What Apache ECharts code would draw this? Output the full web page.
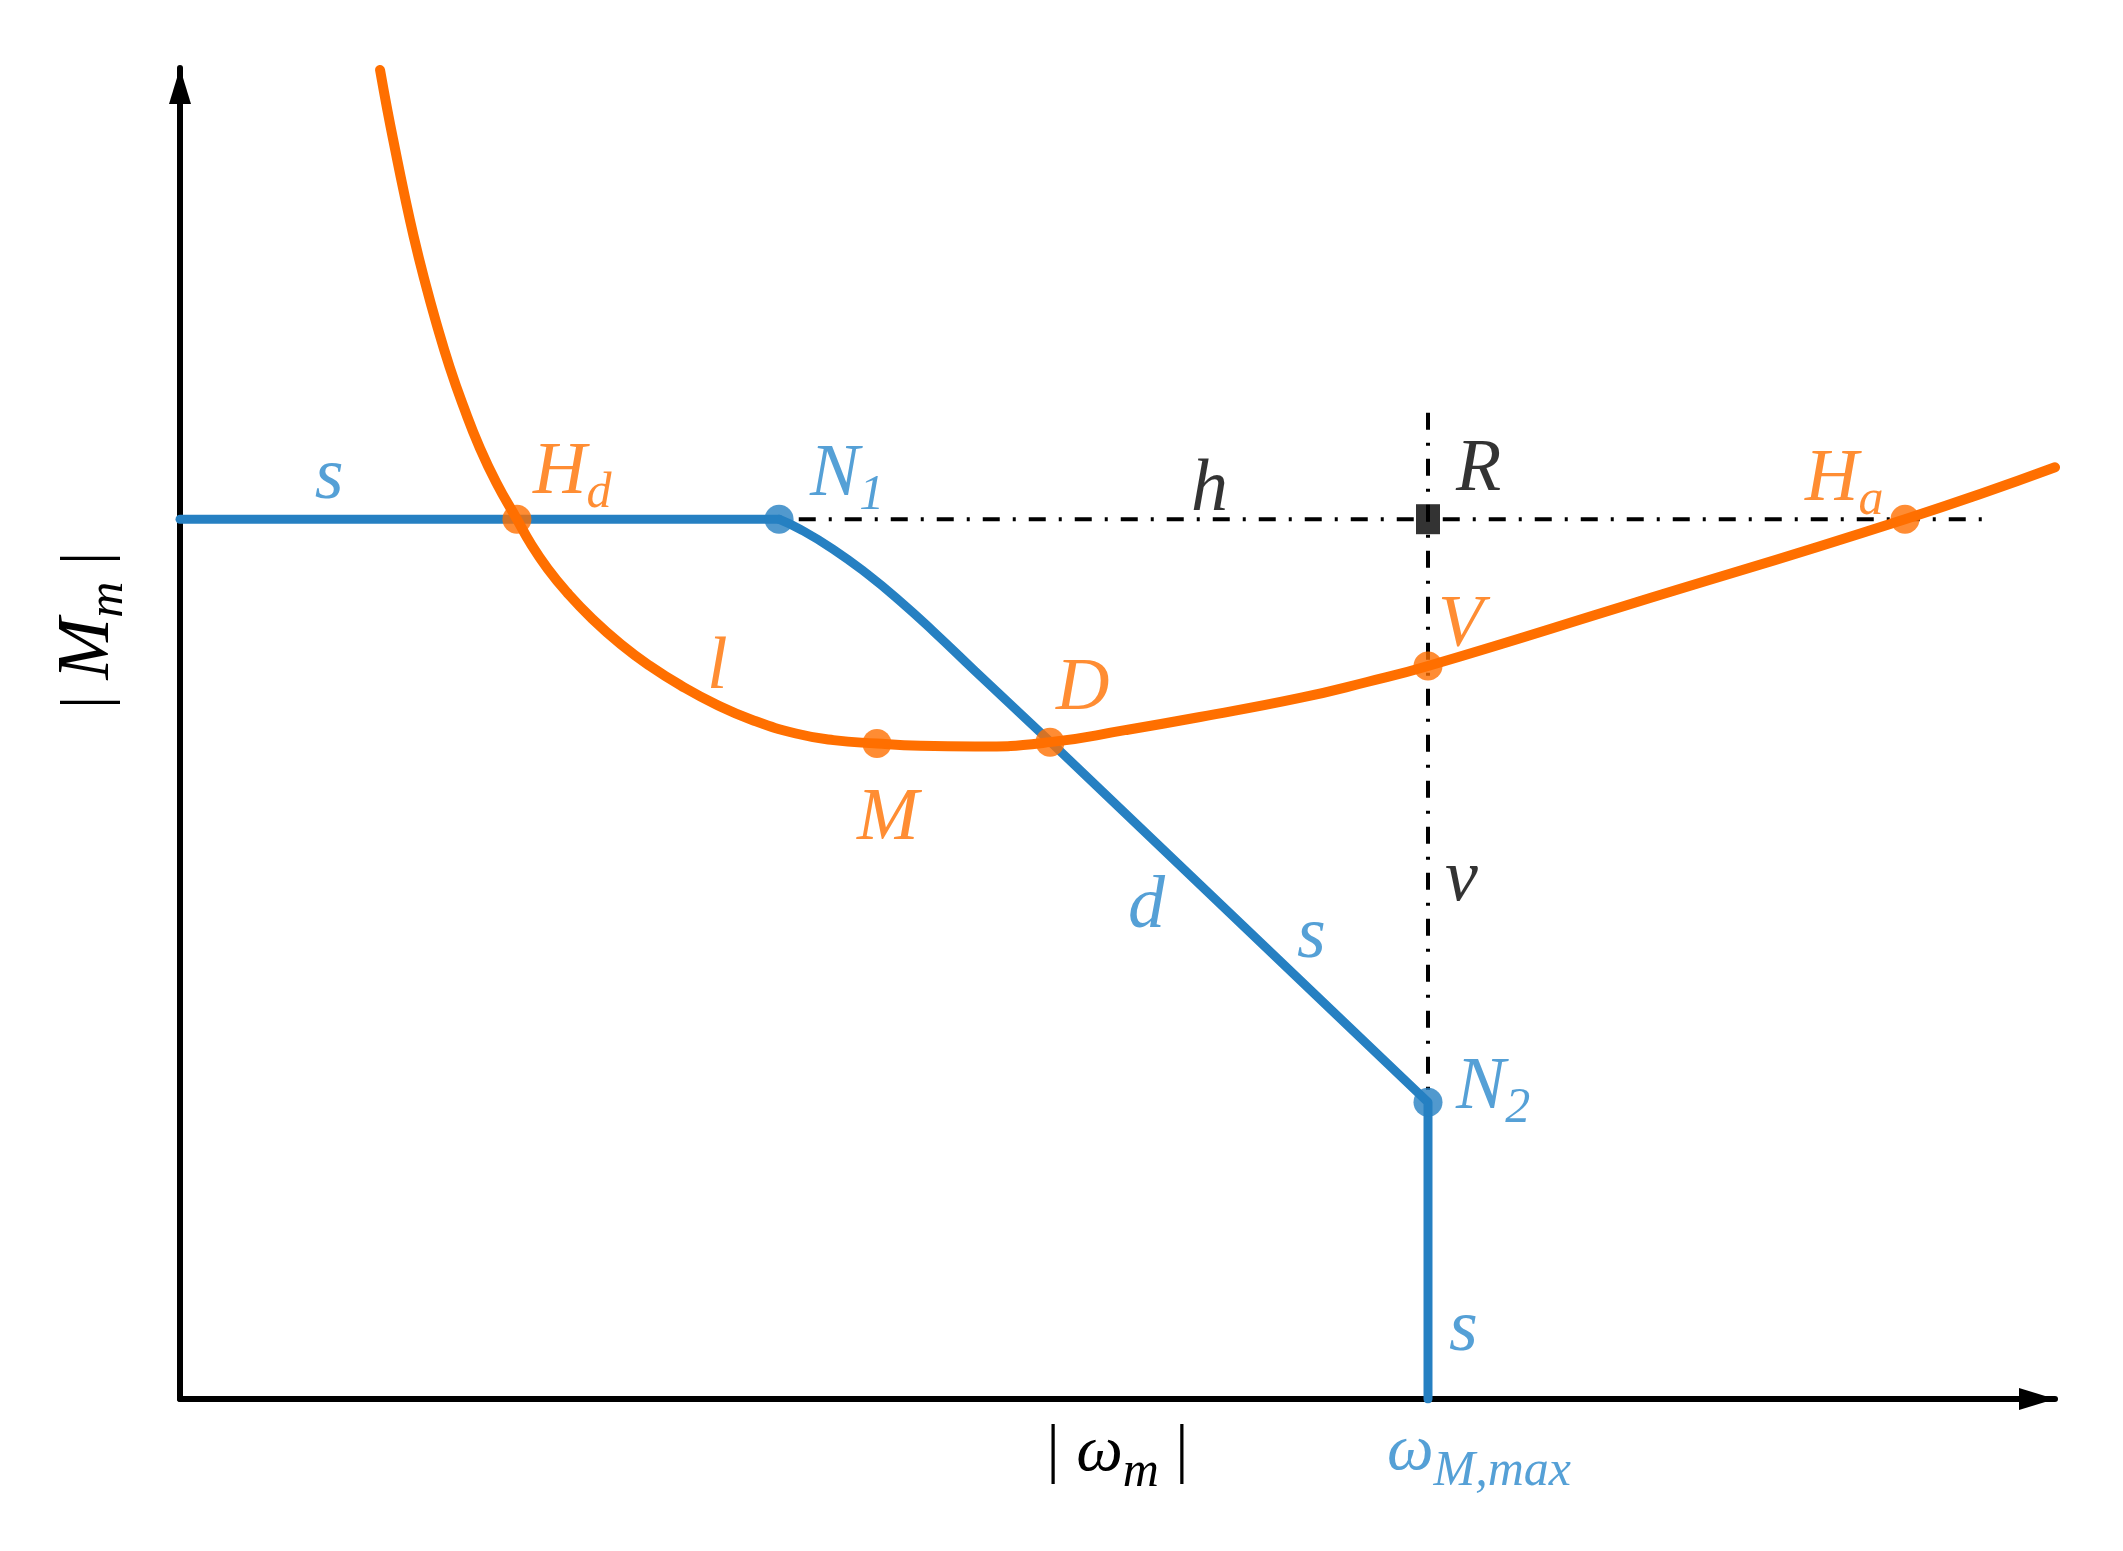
<!DOCTYPE html>
<html><head><meta charset="utf-8">
<script src="https://cdn.jsdelivr.net/npm/echarts@6/dist/echarts.min.js"></script>
<style>html,body{margin:0;padding:0;background:#fff}#c{width:2123px;height:1551px}</style>
</head><body><div id="c"></div>
<script>
// ---- data (arbitrary units: x 0..100, y 0..100) ----
const orangeCurve = [[10.67,99.85],[11.06,96.84],[11.48,93.84],[11.95,90.61],[12.47,87.3],[13.04,84.07],[13.67,80.84],[14.38,77.54],[15.13,74.53],[15.97,71.53],[16.88,68.82],[17.97,66.1],[18.69,64.3],[19.6,62.4],[20.64,60.6],[22.0,58.6],[23.52,56.7],[25.04,55.1],[26.72,53.6],[28.57,52.2],[30.55,51.0],[32.85,50.0],[34.85,49.5],[37.17,49.25],[39.5,49.08],[42.4,49.02],[46.4,49.35],[50.4,50.25],[54.4,51.24],[59.73,52.67],[63.31,53.87],[66.56,55.07],[77.07,59.6],[92.0,66.1],[100,70]];
const blueFlat = [[0,66.1],[31.95,66.1]];
const blueBend = [[31.95,66.1],[33.07,65.35],[34.83,63.85],[36.64,62.0],[38.4,59.95],[40.2,57.65],[42.4,54.7],[46.4,49.4]];
const blueDrop = [[46.4,49.4],[66.56,22.3],[66.56,0]];
const orangeDots = [[17.97,66.1],[37.17,49.25],[46.4,49.35],[66.56,55.07],[92.0,66.1]];
const blueDots = [[31.95,66.1],[66.56,22.3]];
const rPoint = [[66.56,66.1]];
const hLine = [[33.0,66.1],[96.2,66.1]];
const vLine = [[66.56,74.1],[66.56,22.3]];

const labelText  = ['s','H','N','h','R','H','V','l','D','M','d','s','v','N','s','ω'];
const labelSub   = ['','d','1','','','a','','','','','','','','2','','M,max'];
const labelGroup = ['blue','orange','blue','black','black','orange','orange','orange','orange','orange','blue','blue','black','blue','blue','blue'];
const labelAnchor = [[7.19,69.12],[18.83,69.5],[33.6,69.35],[53.92,68.22],[68.05,69.72],[86.67,68.97],[67.09,58.0],[28.1,54.85],[46.72,53.27],[36.11,43.5],[50.56,36.89],[59.57,34.64],[67.47,38.92],[68.05,23.29],[67.68,5.18],[64.37,-3.98]];
const xName = 'ω', xSub = 'm', yName = 'M', ySub = 'm';

// ---- styling ----
const FONT = '"Liberation Serif", "DejaVu Serif", serif';
const LINE = {blue:'#2680C2', orange:'#FF6F00', black:'#000000'};
const TEXT = {blue:'#2A88CC', orange:'#FF7000', black:'#000000'};
function rich(col){
  return {
    m:{fontFamily:FONT,fontStyle:'italic',fontSize:74,lineHeight:90,color:col,verticalAlign:'middle'},
    w:{fontFamily:FONT,fontStyle:'italic',fontSize:66,lineHeight:90,color:col,verticalAlign:'middle'},
    s:{fontFamily:FONT,fontStyle:'italic',fontSize:50,lineHeight:27,color:col,verticalAlign:'bottom'},
    t:{fontFamily:FONT,fontSize:66,lineHeight:90,color:col,verticalAlign:'middle'}
  };
}
function labelSeries(group){
  const data = [];
  labelText.forEach((t,i)=>{ if(labelGroup[i]===group) data.push({value:labelAnchor[i], name:t, sub:labelSub[i]}); });
  return {
    type:'scatter', symbolSize:0, clip:false, silent:true, z:20, data,
    label:{show:true, position:[0,0], align:'left', verticalAlign:'middle', rich:rich(TEXT[group]),
      formatter:p=>{ const d=p.data; const k = d.name==='ω' ? 'w' : 'm'; return '{'+k+'|'+d.name+'}' + (d.sub ? '{s|'+d.sub+'}' : ''); }}
  };
}
const dashDot = [17,13,3,13];
const arrowLine = {show:true, symbol:['none','triangle'], symbolSize:[22,36], symbolOffset:[0,-18], lineStyle:{color:'#000', width:6}};
function seg(data, color, width, z, smooth){
  return {type:'line', data, symbol:'none', silent:true, z, smooth:smooth||false,
    lineStyle:{color, width, cap:'round', join:'round'}};
}

const option = {
  animation:false,
  backgroundColor:'#ffffff',
  grid:{left:180, right:68, top:68, bottom:152, containLabel:false},
  xAxis:{type:'value', min:0, max:100, axisLine:arrowLine, axisTick:{show:false}, axisLabel:{show:false}, splitLine:{show:false},
    name:'{t|| }{w|'+xName+'}{s|'+xSub+'}{t| |}', nameLocation:'middle', nameGap:9,
    nameTextStyle:{rich:rich('#000')}},
  yAxis:{type:'value', min:0, max:100, axisLine:arrowLine, axisTick:{show:false}, axisLabel:{show:false}, splitLine:{show:false},
    name:'{t|| }{m|'+yName+'}{s|'+ySub+'}{t| |}', nameLocation:'middle', nameGap:46,
    nameTextStyle:{rich:rich('#000'), padding:[0,0,0,206]}},
  series:[
    {type:'line', data:hLine, symbol:'none', silent:true, z:2, lineStyle:{color:'#000', width:4, type:dashDot}},
    {type:'line', data:vLine, symbol:'none', silent:true, z:2, lineStyle:{color:'#000', width:4, type:dashDot}},
    seg(blueFlat, LINE.blue, 9, 3),
    seg(blueBend, LINE.blue, 9, 3, 0.5),
    seg(blueDrop, LINE.blue, 9, 3),
    seg(orangeCurve, LINE.orange, 10, 4, 0.5),
    {type:'scatter', data:blueDots, symbol:'circle', symbolSize:29, silent:true, z:5, itemStyle:{color:LINE.blue}},
    {type:'scatter', data:orangeDots, symbol:'circle', symbolSize:29, silent:true, z:6, itemStyle:{color:LINE.orange}},
    {type:'scatter', data:rPoint, symbol:'rect', symbolSize:[24,30], silent:true, z:6, itemStyle:{color:'#000'}},
    labelSeries('blue'), labelSeries('orange'), labelSeries('black')
  ]
};
const chart = echarts.init(document.getElementById('c'));
chart.setOption(option);
</script></body></html>
